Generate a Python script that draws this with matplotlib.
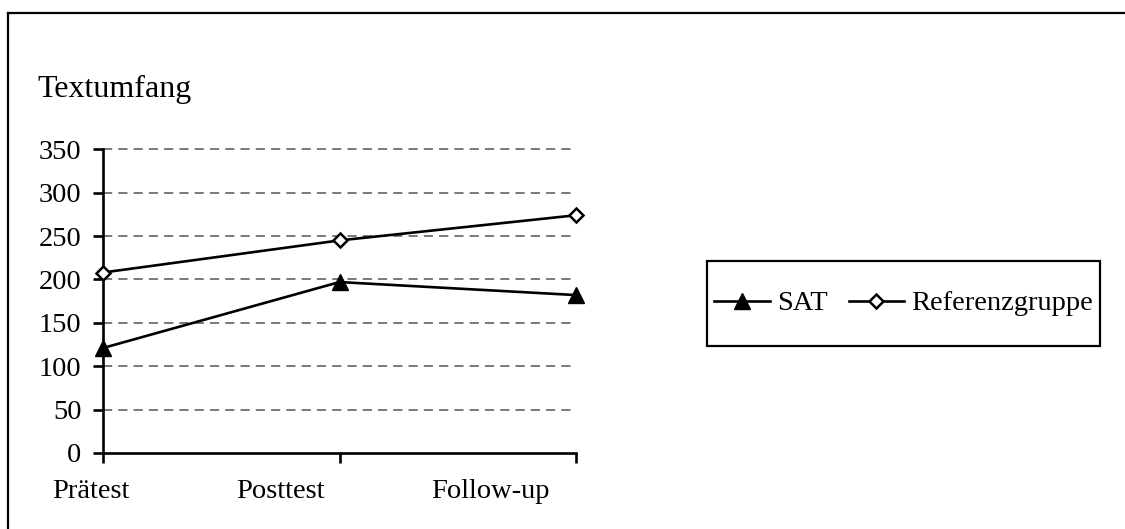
import matplotlib
matplotlib.use("Agg")
import matplotlib.pyplot as plt
from matplotlib.lines import Line2D
from matplotlib.patches import Rectangle

plt.rcParams['font.family'] = ['Liberation Serif', 'DejaVu Serif']

categories = ["Prätest", "Posttest", "Follow-up"]
sat = [121, 197, 182]
referenz = [208, 245, 274]
series_names = ["SAT", "Referenzgruppe"]
y_ticks = [0, 50, 100, 150, 200, 250, 300, 350]
y_title = "Textumfang"

W, H = 1125, 529
fig = plt.figure(figsize=(W / 100, H / 100), dpi=100)

def fx(px):
    return px / W

def fy(py):
    return 1 - py / H

ax = fig.add_axes([fx(103), fy(453), fx(576) - fx(103), fy(149.3) - fy(453)])

x = list(range(len(categories)))
l1, = ax.plot(x, sat, color='black', lw=1.9, marker='^', markersize=11.5,
              markerfacecolor='black', markeredgecolor='black', clip_on=False, zorder=5)
l2, = ax.plot(x, referenz, color='black', lw=1.9, marker='D', markersize=6.8,
              markerfacecolor='white', markeredgecolor='black', markeredgewidth=1.8,
              clip_on=False, zorder=5)

ax.set_xlim(0, 2)
ax.set_ylim(0, 350)
ax.set_yticks(y_ticks)
ax.set_yticklabels([str(v) for v in y_ticks], fontsize=20.5)
ax.set_xticks(x)
ax.set_xticklabels([])

for v in y_ticks[1:]:
    ax.axhline(v, color='#555555', lw=1.1, ls=(0, (6, 4)), zorder=1, clip_on=False)

for side in ['top', 'right']:
    ax.spines[side].set_visible(False)
for side in ['left', 'bottom']:
    ax.spines[side].set_linewidth(1.9)
ax.tick_params(axis='both', direction='out', length=7.5, width=1.9, color='black')
ax.tick_params(axis='y', pad=8)

# category labels beneath the axis
label_x = [-0.05, 0.75, 1.64]
for xp, lab in zip(label_x, categories):
    ax.text(xp, -0.128, lab, transform=ax.get_xaxis_transform(), ha='center',
            va='center', fontsize=20.5)

fig.text(fx(37), fy(97), y_title, fontsize=23, ha='left', va='baseline')

# legend box
fig.patches.append(Rectangle((fx(707), fy(346)), fx(1100) - fx(707), fy(261) - fy(346),
                             transform=fig.transFigure, fill=False, edgecolor='black',
                             lw=1.6))
fig.legend([l1, l2], series_names, loc='center',
           bbox_to_anchor=(fx(903.5), fy(303.5)), ncol=2, frameon=False,
           fontsize=20.5, handlelength=1.95, handletextpad=0.25, columnspacing=0.75)

# outer chart frame
fig.add_artist(Line2D([fx(8), fx(8)], [fy(13), 0], transform=fig.transFigure,
                      color='black', lw=1.6))
fig.add_artist(Line2D([fx(8), 1], [fy(13), fy(13)], transform=fig.transFigure,
                      color='black', lw=1.6))

fig.savefig("out.png", dpi=100)
